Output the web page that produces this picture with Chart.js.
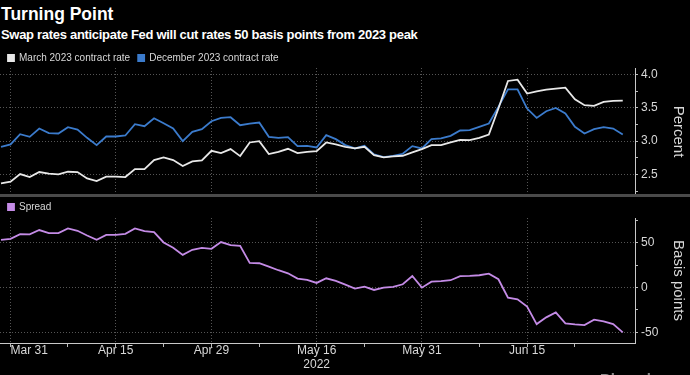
<!DOCTYPE html>
<html>
<head>
<meta charset="utf-8">
<script src="https://cdn.jsdelivr.net/npm/chart.js@4.4.0/dist/chart.umd.min.js"></script>
<style>
  html, body { margin: 0; padding: 0; background: #000; width: 690px; height: 375px; overflow: hidden; }
  body { position: relative; font-family: "Liberation Sans", Arial, sans-serif; }
  #title { position: absolute; left: 1px; top: 6px; font-weight: bold; font-size: 17.5px; line-height: 1; color: #fff; }
  #subtitle { position: absolute; left: 1px; top: 28px; font-weight: bold; font-size: 13px; line-height: 1; letter-spacing: -0.3px; color: #fff; white-space: nowrap; }
  #rates { position: absolute; left: 0; top: 45px; }
  #spread { position: absolute; left: 0; top: 194px; }
  #sep { position: absolute; left: 0; top: 194px; width: 690px; height: 3px; background: #4a4a4a; }
  #source { position: absolute; left: 600px; top: 371px; font-weight: bold; font-size: 15px; line-height: 1; color: #888; }
</style>
</head>
<body>
<div id="title">Turning Point</div>
<div id="subtitle">Swap rates anticipate Fed will cut rates 50 basis points from 2023 peak</div>
<canvas id="rates" width="690" height="162"></canvas>
<div id="sep"></div>
<canvas id="spread" width="690" height="181"></canvas>
<div id="source">Bloomberg</div>
<script>
// business days, Mar 30 - Jun 29 2022
const dates = [
    'Mar 30', 'Mar 31', 'Apr 1', 'Apr 4', 'Apr 5', 'Apr 6', 'Apr 7', 'Apr 8', 'Apr 11', 'Apr 12',
    'Apr 13', 'Apr 14', 'Apr 15', 'Apr 18', 'Apr 19', 'Apr 20', 'Apr 21', 'Apr 22', 'Apr 25', 'Apr 26',
    'Apr 27', 'Apr 28', 'Apr 29', 'May 2', 'May 3', 'May 4', 'May 5', 'May 6', 'May 9', 'May 10',
    'May 11', 'May 12', 'May 13', 'May 16', 'May 17', 'May 18', 'May 19', 'May 20', 'May 23', 'May 24',
    'May 25', 'May 26', 'May 27', 'May 30', 'May 31', 'Jun 1', 'Jun 2', 'Jun 3', 'Jun 6', 'Jun 7',
    'Jun 8', 'Jun 9', 'Jun 10', 'Jun 13', 'Jun 14', 'Jun 15', 'Jun 16', 'Jun 17', 'Jun 20', 'Jun 21',
    'Jun 22', 'Jun 23', 'Jun 24', 'Jun 27', 'Jun 28', 'Jun 29'
];
const marchRate = [
    2.365, 2.39, 2.505, 2.46, 2.535, 2.51, 2.50, 2.54, 2.535, 2.44,
    2.40, 2.465, 2.465, 2.46, 2.58, 2.58, 2.715, 2.755, 2.715, 2.625,
    2.695, 2.71, 2.855, 2.82, 2.88, 2.775, 2.98, 3.0, 2.805, 2.84,
    2.885, 2.82, 2.84, 2.85, 2.98, 2.95, 2.915, 2.89, 2.915, 2.79,
    2.755, 2.77, 2.78, 2.83, 2.88, 2.94, 2.94, 2.98, 3.02, 3.015,
    3.05, 3.10, 3.49, 3.905, 3.925, 3.715, 3.75, 3.775, 3.79, 3.805,
    3.63, 3.54, 3.53, 3.59, 3.605, 3.61
];
const decRate = [
    2.915, 2.95, 3.105, 3.065, 3.19, 3.12, 3.115, 3.21, 3.175, 3.05,
    2.94, 3.07, 3.07, 3.085, 3.255, 3.225, 3.345, 3.27, 3.19, 3.0,
    3.14, 3.18, 3.30, 3.35, 3.36, 3.24, 3.265, 3.28, 3.065, 3.05,
    3.06, 2.925, 2.93, 2.905, 3.09, 3.03, 2.94, 2.89, 2.93, 2.80,
    2.76, 2.78, 2.81, 2.925, 2.89, 3.03, 3.04, 3.08, 3.16, 3.165,
    3.215, 3.265, 3.515, 3.78, 3.78, 3.49, 3.35, 3.45, 3.50, 3.415,
    3.215, 3.115, 3.18, 3.21, 3.19, 3.10
];
const spread = [
    53.6, 54.7, 60, 59.6, 64.5, 61, 61, 66.3, 63.7, 58.4,
    53.6, 59, 59, 60.3, 66.3, 63.4, 62.2, 50.6, 44.6, 36.7,
    42.4, 44.6, 43.5, 51, 47.6, 46.8, 27.7, 27.3, 23.6, 19.5,
    16.1, 10.1, 8.6, 5.3, 10.5, 7.5, 3.4, -1.1, 1.1, -2.6,
    0, 0.8, 3.8, 13.1, 0, 6.7, 7.2, 8.3, 12.8, 13.1,
    13.9, 15.7, 9.4, -11.2, -13, -21.3, -40.8, -33.3, -27.7, -40,
    -41.1, -41.9, -35.9, -37.8, -40.8, -50.1
];
const majorTicks = ['Mar 31', 'Apr 15', 'Apr 29', 'May 16', 'May 31', 'Jun 15'];
const minorTicks = ['Apr 8', 'Apr 22', 'May 6', 'May 23', 'Jun 8', 'Jun 22'];
const yearTick = 'May 16';
const yearLabel = '2022';
const rateTicks = [2.5, 3.0, 3.5, 4.0];
const rateMinorTicks = [2.25, 2.75, 3.25, 3.75];
const spreadTicks = [-50, 0, 50];
const spreadMinorTicks = [-25, 25, 75];

Chart.defaults.font.family = "'Liberation Sans', Arial, sans-serif";
Chart.defaults.color = '#d8d8d8';

const majorIdx = majorTicks.map(d => dates.indexOf(d));
const xTicks = majorIdx.concat(minorTicks.map(d => dates.indexOf(d))).sort((a, b) => a - b);
const points = arr => arr.map((v, i) => ({ x: i, y: v }));

function xAxis(showLabels) {
    return {
        type: 'linear',
        min: -0.105,
        max: 66.28,
        afterBuildTicks: s => { s.ticks = xTicks.map(v => ({ value: v })); },
        afterFit: s => { s.height = showLabels ? 32 : 12; },
        grid: {
            color: c => (c.tick && majorIdx.includes(c.tick.value)) ? '#555' : 'transparent',
            tickColor: '#bbb',
            tickLength: 4,
            drawTicks: showLabels
        },
        border: { display: showLabels, color: '#c8c8c8', dash: [1, 2] },
        ticks: {
            display: showLabels,
            autoSkip: false,
            maxRotation: 0,
            align: 'inner',
            padding: -3,
            color: '#d8d8d8',
            font: { size: 12, lineHeight: 1.15 },
            callback: v => {
                const d = dates[v];
                if (!majorTicks.includes(d)) return '';
                return d === yearTick ? [d, yearLabel] : d;
            }
        }
    };
}

function yAxis(major, minor, min, max, title, fmt) {
    return {
        position: 'right',
        min: min,
        max: max,
        afterBuildTicks: s => { s.ticks = major.concat(minor).sort((a, b) => a - b).map(v => ({ value: v })); },
        afterFit: s => { s.width = 55; },
        grid: {
            color: c => (c.tick && major.includes(c.tick.value)) ? '#555' : 'transparent',
            tickColor: '#bbb',
            tickLength: 3
        },
        border: { display: true, color: '#c8c8c8', dash: [1, 2] },
        ticks: {
            autoSkip: false,
            padding: 3,
            color: '#d8d8d8',
            font: { size: 12 },
            callback: v => major.includes(v) ? fmt(v) : ''
        },
        title: {
            display: true,
            text: title,
            color: '#d8d8d8',
            font: { size: 15 },
            padding: { top: 3, bottom: 0 }
        }
    };
}

function legend(maxHeight) {
    return {
        align: 'start',
        maxHeight: maxHeight,
        labels: { boxWidth: 6, boxHeight: 6, padding: 8, color: '#d8d8d8', font: { size: 10 } }
    };
}

new Chart(document.getElementById('rates'), {
    type: 'line',
    data: {
        datasets: [{
            label: 'March 2023 contract rate',
            data: points(marchRate),
            borderColor: '#e8e8e8',
            backgroundColor: '#e8e8e8',
            borderWidth: 1.8,
            pointRadius: 0
        }, {
            label: 'December 2023 contract rate',
            data: points(decRate),
            borderColor: '#3b7bcc',
            backgroundColor: '#3b7bcc',
            borderWidth: 1.8,
            pointRadius: 0
        }]
    },
    options: {
        responsive: false,
        animation: false,
        layout: { padding: 0, autoPadding: false },
        scales: {
            x: xAxis(false),
            y: yAxis(rateTicks, rateMinorTicks, 2.19, 4.1, 'Percent', v => v.toFixed(1))
        },
        plugins: {
            legend: legend(23),
            tooltip: { enabled: false }
        }
    }
});

new Chart(document.getElementById('spread'), {
    type: 'line',
    data: {
        datasets: [{
            label: 'Spread',
            data: points(spread),
            borderColor: '#c48be6',
            backgroundColor: '#c48be6',
            borderWidth: 1.8,
            pointRadius: 0
        }]
    },
    options: {
        responsive: false,
        animation: false,
        layout: { padding: 0, autoPadding: false },
        scales: {
            x: xAxis(true),
            y: yAxis(spreadTicks, spreadMinorTicks, -62, 78, 'Basis points', v => String(v))
        },
        plugins: {
            legend: legend(24),
            tooltip: { enabled: false }
        }
    }
});
</script>
</body>
</html>
